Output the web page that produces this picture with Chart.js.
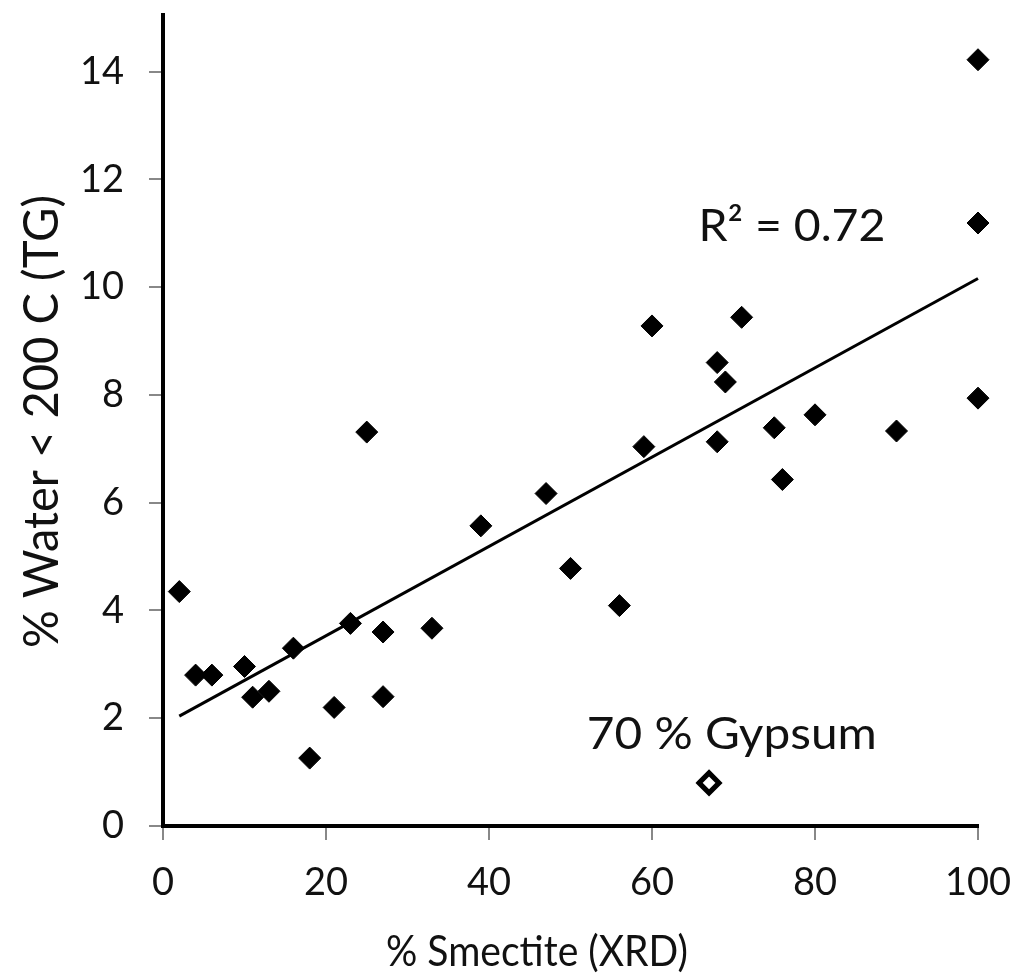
<!DOCTYPE html>
<html><head><meta charset="utf-8">
<script src="https://cdn.jsdelivr.net/npm/chart.js@4/dist/chart.umd.min.js"></script>
<style>html,body{margin:0;padding:0;background:#fff;} #wrap{width:1015px;height:979px;}</style>
</head><body><div id="wrap"><canvas id="c" width="1015" height="979"></canvas></div>
<script>
const smectite = [2, 4, 6, 10, 11, 13, 16, 18, 21, 23, 25, 27, 27, 33, 39, 47, 50, 56, 59, 60, 68, 69, 68, 71, 75, 76, 80, 90, 100, 100, 100];
const water    = [4.35, 2.8, 2.8, 2.96, 2.39, 2.5, 3.3, 1.26, 2.2, 3.76, 7.31, 3.6, 2.4, 3.67, 5.57, 6.17, 4.78, 4.09, 7.04, 9.28, 8.6, 8.24, 7.13, 9.44, 7.39, 6.43, 7.63, 7.33, 7.94, 11.19, 14.22];
const gypsumX = [67];
const gypsumY = [0.8];
const trendX = [2, 100];
const trendY = [2.04, 10.16];
const xTickValues = [0, 20, 40, 60, 80, 100];
const yTickValues = [0, 2, 4, 6, 8, 10, 12, 14];
const xTitle = '% Smectite (XRD)';
const yTitle = '% Water < 200 C (TG)';
const r2Label = 'R\u00B2 = 0.72';
const gypsumLabel = '70 % Gypsum';

const FONT = 'Lato, "Open Sans", sans-serif';
const toPts = (xs, ys) => xs.map((x, i) => ({x: x, y: ys[i]}));

function drawFitted(ctx, text, x, y, size, width, rotate) {
  ctx.save();
  ctx.font = size + 'px ' + FONT;
  ctx.textAlign = 'left';
  ctx.textBaseline = 'alphabetic';
  const w = ctx.measureText(text).width;
  ctx.translate(x, y);
  if (rotate) ctx.rotate(-Math.PI / 2);
  ctx.scale(width / w, 1);
  ctx.fillText(text, 0, 0);
  ctx.restore();
}

const textPlugin = {
  id: 'texts',
  afterDraw(chart) {
    const ctx = chart.ctx, xs = chart.scales.x, ys = chart.scales.y;
    ctx.save();
    ctx.fillStyle = '#111';
    drawFitted(ctx, xTitle, 386, 966, 43, 302, false);
    drawFitted(ctx, yTitle, 58, 648, 48, 453, true);
    drawFitted(ctx, r2Label, xs.getPixelForValue(65.7), ys.getPixelForValue(10.86), 44, 187, false);
    drawFitted(ctx, gypsumLabel, xs.getPixelForValue(52), ys.getPixelForValue(1.43), 44, 290, false);
    ctx.restore();
  }
};

new Chart(document.getElementById('c'), {
  type: 'scatter',
  data: {
    datasets: [
      { data: toPts(trendX, trendY), showLine: true, borderColor: '#000', borderWidth: 3, pointRadius: 0, fill: false, clip: false, order: 2 },
      { data: toPts(smectite, water), pointStyle: 'rectRot', pointRadius: 11, backgroundColor: '#000', borderColor: '#000', borderWidth: 1, clip: false, order: 1 },
      { data: toPts(gypsumX, gypsumY), pointStyle: 'rectRot', pointRadius: 10, backgroundColor: '#fff', borderColor: '#000', borderWidth: 5, clip: false, order: 0 }
    ]
  },
  options: {
    responsive: false,
    animation: false,
    devicePixelRatio: 1,
    layout: { padding: { left: 0, right: 37, top: 13, bottom: 0 } },
    plugins: { legend: { display: false }, tooltip: { enabled: false } },
    scales: {
      x: {
        type: 'linear', min: 0, max: 100,
        afterBuildTicks: s => { s.ticks = xTickValues.map(v => ({value: v})); },
        afterFit: s => { s.height = 153; s.paddingLeft = 0; s.paddingRight = 0; },
        grid: { drawOnChartArea: false, drawTicks: true, tickLength: 14, color: '#888', lineWidth: 2 },
        border: { display: true, color: '#000', width: 4 },
        ticks: { color: '#111', font: { family: FONT, size: 38 }, padding: 20, maxRotation: 0 }
      },
      y: {
        type: 'linear', min: 0, max: 15.05,
        afterBuildTicks: s => { s.ticks = yTickValues.map(v => ({value: v})); },
        afterFit: s => { s.width = 163; s.paddingTop = 0; s.paddingBottom = 0; },
        grid: { drawOnChartArea: false, drawTicks: true, tickLength: 14, color: '#888', lineWidth: 2 },
        border: { display: true, color: '#000', width: 4 },
        ticks: { color: '#111', font: { family: FONT, size: 38 }, padding: 25 }
      }
    }
  },
  plugins: [textPlugin]
});
</script>
</body></html>
